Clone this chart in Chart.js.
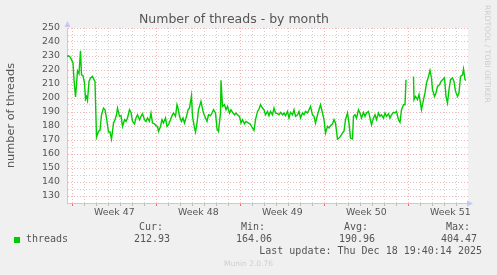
<!DOCTYPE html>
<html>
<head>
<meta charset="utf-8">
<script src="https://cdn.jsdelivr.net/npm/chart.js@4.4.1/dist/chart.umd.min.js"></script>
<style>
    body { margin: 0; background: #f0f0f0; }
    #wrap { position: relative; width: 497px; height: 275px; background: #f0f0f0; overflow: hidden; }
    #chart { position: absolute; left: 0; top: 0; }
    .mono { position: absolute; font-family: 'DejaVu Sans Mono', monospace; font-size: 10px; line-height: 12px; color: #555; white-space: pre; }
    .swatch { position: absolute; left: 14px; top: 237px; width: 6px; height: 6px; background: #00cc00; }
    .footer { position: absolute; left: 0; width: 497px; top: 259px; text-align: center; font-family: 'DejaVu Sans', sans-serif; font-size: 7.5px; line-height: 10px; color: #cfcfcf; }
    .rrd { position: absolute; left: 482px; top: 5px; writing-mode: vertical-rl; font-family: 'DejaVu Sans', sans-serif; font-size: 7.6px; line-height: 10px; color: #cdcdcd; white-space: nowrap; }
</style>
</head>
<body>
<div id="wrap">
    <canvas id="chart" width="497" height="275"></canvas>
    <div class="rrd">RRDTOOL / TOBI OETIKER</div>
    <div class="swatch"></div>
    <div id="legend"></div>
    <div class="footer">Munin 2.0.76</div>
</div>
<script>
// hours since left edge of the plot (2 hours per pixel column)
const hours = [0, 3, 6, 9, 12, 14, 17, 19, 21, 24, 27, 29, 32, 35, 37, 39, 41, 44, 47, 51, 54, 56, 59, 63, 66, 69, 73, 76, 79, 83, 86, 89, 93, 96, 99, 101, 105, 108, 111, 115, 118, 121, 125, 128, 131, 135, 138, 141, 145, 148, 151, 155, 158, 161, 165, 168, 171, 175, 178, 181, 183, 187, 190, 193, 197, 200, 203, 207, 210, 213, 217, 220, 222, 225, 229, 232, 235, 239, 242, 245, 249, 251, 255, 257, 260, 263, 268, 270, 273, 277, 280, 283, 287, 290, 293, 297, 300, 303, 307, 308, 311, 315, 318, 321, 325, 328, 331, 335, 338, 341, 345, 348, 351, 355, 358, 363, 366, 369, 374, 377, 381, 384, 387, 391, 394, 397, 401, 404, 407, 411, 414, 417, 421, 424, 427, 431, 434, 437, 441, 444, 447, 451, 454, 457, 461, 464, 467, 471, 474, 477, 481, 484, 487, 491, 494, 497, 501, 504, 507, 511, 514, 517, 521, 524, 527, 531, 534, 537, 541, 544, 547, 551, 554, 557, 561, 564, 567, 571, 573, 576, 579, 583, 586, 589, 593, 596, 599, 603, 606, 609, 613, 616, 619, 623, 626, 629, 633, 636, 639, 643, 646, 649, 653, 656, 659, 663, 666, 669, 673, 676, 678, 685, 693, 694, 697, 701, 704, 707, 709, 713, 716, 719, 723, 726, 729, 731, 735, 738, 741, 745, 748, 751, 755, 758, 761, 764, 767, 771, 774, 777, 781, 784, 787, 791, 793, 796, 798];

const threads = [229.8, 230.2, 229.3, 227.4, 225, 213, 200.7, 209.5, 219.5, 217.4, 233.8, 216.6, 215.9, 210.7, 199.3, 201.1, 198.3, 211.9, 214.3, 215.4, 213.1, 211.9, 172.1, 176.2, 176.9, 188, 192.8, 191.6, 185.7, 175.7, 175.7, 170.7, 182.1, 184.5, 188, 192.8, 186.9, 187.4, 179.7, 184.5, 183.3, 185.7, 191.6, 189.7, 183.3, 181.6, 185.7, 188, 184.5, 186.9, 188.8, 184.5, 183.3, 185.7, 183.3, 189.3, 182.1, 181.6, 180.2, 179.7, 176.2, 179.7, 184.5, 182.1, 185.7, 179.7, 180.9, 184.5, 187.4, 189.3, 186.9, 195.2, 192.8, 186.9, 183.3, 185.7, 182.1, 186.9, 191.6, 192.8, 201.6, 186.9, 178.6, 175.7, 182.1, 191.6, 197.6, 194, 189.3, 185.7, 183.3, 188, 187.4, 189.3, 191.6, 189.3, 177.9, 176.2, 189.3, 212.6, 194, 195.2, 191.6, 194, 189.3, 191.6, 189.7, 188, 189.3, 188, 186.9, 182.1, 184.5, 181.6, 183.3, 182.1, 181.6, 179.7, 176.9, 184.5, 190.4, 192.1, 195.2, 192.8, 191.6, 188, 190.4, 187.4, 190.4, 188, 192.8, 189.3, 188.8, 188, 189.7, 188, 189.3, 187.4, 190.4, 185.7, 189.7, 188, 191.6, 186.9, 188, 190.4, 185.7, 189.3, 188, 190.4, 189.3, 191.6, 194, 188, 186.9, 182.1, 188, 191.6, 195.2, 189.3, 184.5, 175, 179.7, 178.6, 180.2, 181.6, 184.5, 182.1, 170.7, 171.4, 172.6, 175, 176.2, 184.5, 189.3, 182.1, 171.4, 170.7, 186.9, 188, 185.7, 191.6, 189.3, 185.7, 189.7, 186.9, 189.3, 190.4, 185.7, 180.9, 185.7, 188, 184.5, 189.3, 186.9, 188, 185.7, 189.3, 186.9, 188.8, 185.7, 188, 189.7, 189.3, 190.4, 184.5, 182.6, 191.6, 195.2, 195.2, 213.1, null, 215.4, 198.8, 201.1, 198.8, 202.4, 196.4, 191.6, 198.8, 203.6, 210.7, 215.4, 219.7, 214.3, 205.9, 201.1, 203.6, 208.3, 209.5, 211.9, 213.1, 214.3, 201.1, 196.4, 205.9, 213.1, 214.3, 211.9, 204.7, 201.1, 203.6, 215.4, 216.6, 220.7, 213.1, 212.6];

const weekLabels = ['Week 47', 'Week 48', 'Week 49', 'Week 50', 'Week 51'];
const weekStarts = [10.6, 178.6, 346.6, 514.6, 682.6];
const weekCenters = [94.6, 262.6, 430.6, 598.6, 766.6];
const yTicks = [125, 130, 135, 140, 145, 150, 155, 160, 165, 170, 175, 180, 185, 190, 195, 200, 205, 210, 215, 220, 225, 230, 235, 240, 245, 250];

const statLabels = ['Cur:', 'Min:', 'Avg:', 'Max:'];
const statValues = ['212.93', '164.06', '190.96', '404.47'];
const lastUpdate = 'Last update: Thu Dec 18 19:40:14 2025';

const MAJOR = 'rgba(235, 150, 150, 0.7)';
const MINOR = 'rgba(195, 195, 195, 0.75)';
const AXIS = '#c6c6f2';

// day grid lines every 24 h, starting at the first Monday
const dayLines = [];
for (let h = weekStarts[0]; h <= 802; h += 24) dayLines.push(Math.round(h * 10) / 10);
const xTicks = [...dayLines, ...weekCenters].sort((a, b) => a - b);

function isWeekStart(v) { return weekStarts.some(w => Math.abs(w - v) < 0.01); }
function weekIndex(v) { return weekCenters.findIndex(c => Math.abs(c - v) < 0.01); }

const plotBackground = {
    id: 'plotBackground',
    beforeDraw(chart) {
        const { ctx, chartArea: a } = chart;
        ctx.save();
        ctx.fillStyle = '#ffffff';
        ctx.fillRect(a.left, a.top, a.right - a.left, a.bottom - a.top);
        ctx.restore();
    },
    afterDraw(chart) {
        const { ctx, chartArea: a } = chart;
        ctx.save();
        ctx.fillStyle = AXIS;
        ctx.beginPath();
        ctx.moveTo(a.left + 0.5, a.top - 7);
        ctx.lineTo(a.left - 2.5, a.top - 1);
        ctx.lineTo(a.left + 3.5, a.top - 1);
        ctx.closePath();
        ctx.fill();
        ctx.beginPath();
        ctx.moveTo(a.right + 5, a.bottom + 0.5);
        ctx.lineTo(a.right - 1, a.bottom - 2.5);
        ctx.lineTo(a.right - 1, a.bottom + 3.5);
        ctx.closePath();
        ctx.fill();
        ctx.restore();
    }
};

new Chart(document.getElementById('chart'), {
    type: 'line',
    data: {
        datasets: [{
            label: 'threads',
            data: hours.map((h, i) => ({ x: h, y: threads[i] })),
            borderColor: '#00cc00',
            borderWidth: 1.4,
            pointRadius: 0,
            tension: 0,
            fill: false,
            spanGaps: false
        }]
    },
    options: {
        responsive: false,
        animation: false,
        devicePixelRatio: 1,
        layout: { padding: { left: 0, right: 29, top: 0, bottom: 0 } },
        plugins: {
            legend: { display: false },
            tooltip: { enabled: false },
            title: {
                display: true,
                text: 'Number of threads - by month',
                color: '#555',
                font: { family: 'DejaVu Sans', size: 12.5, weight: 'normal' },
                padding: { top: 12, bottom: 1 }
            }
        },
        scales: {
            x: {
                type: 'linear',
                min: 0,
                max: 802,
                afterFit: s => { s.height = 72; },
                afterBuildTicks: s => { s.ticks = xTicks.map(v => ({ value: v })); },
                border: { color: AXIS, width: 1, dash: [1, 2] },
                grid: {
                    color: c => isWeekStart(c.tick.value) ? MAJOR : (weekIndex(c.tick.value) >= 0 ? 'rgba(0,0,0,0)' : MINOR),
                    tickColor: c => isWeekStart(c.tick.value) ? 'rgba(230,90,90,0.9)' : (weekIndex(c.tick.value) >= 0 ? 'rgba(0,0,0,0)' : 'rgba(180,180,180,0.9)'),
                    tickBorderDash: [],
                    tickLength: 3,
                    drawTicks: true
                },
                ticks: {
                    autoSkip: false,
                    maxRotation: 0,
                    padding: 1,
                    color: '#555',
                    font: { family: 'DejaVu Sans', size: 9.4 },
                    callback: v => { const i = weekIndex(v); return i >= 0 ? weekLabels[i] : ''; }
                }
            },
            y: {
                min: 125,
                max: 250,
                afterFit: s => { s.width = 67; },
                afterBuildTicks: s => { s.ticks = yTicks.map(v => ({ value: v })); },
                border: { color: AXIS, width: 1, dash: [1, 2] },
                grid: {
                    color: c => c.tick.value === 125 ? 'rgba(0,0,0,0)' : (c.tick.value % 10 === 0 ? MAJOR : MINOR),
                    drawTicks: false
                },
                title: {
                    display: true,
                    text: 'number of threads',
                    color: '#555',
                    font: { family: 'DejaVu Sans', size: 11.3 },
                    padding: { top: 4, bottom: 0 }
                },
                ticks: {
                    autoSkip: false,
                    padding: 7,
                    color: '#555',
                    font: { family: 'DejaVu Sans', size: 9.4 },
                    callback: v => v % 10 === 0 && v !== 125 ? String(v) : ''
                }
            }
        }
    },
    plugins: [plotBackground]
});

// munin style legend block
const legend = document.getElementById('legend');
const statRight = [163, 265, 368, 470];
let html = '<div class="mono" style="left:26px; top:233px;">threads</div>';
statLabels.forEach((label, i) => {
    const right = 497 - statRight[i];
    html += `<div class="mono" style="right:${right}px; top:221px;">${label}</div>`;
    html += `<div class="mono" style="right:${right - 7}px; top:233px;">${statValues[i]}</div>`;
});
html += `<div class="mono" style="right:15px; top:245px;">${lastUpdate}</div>`;
legend.innerHTML = html;
</script>
</body>
</html>
